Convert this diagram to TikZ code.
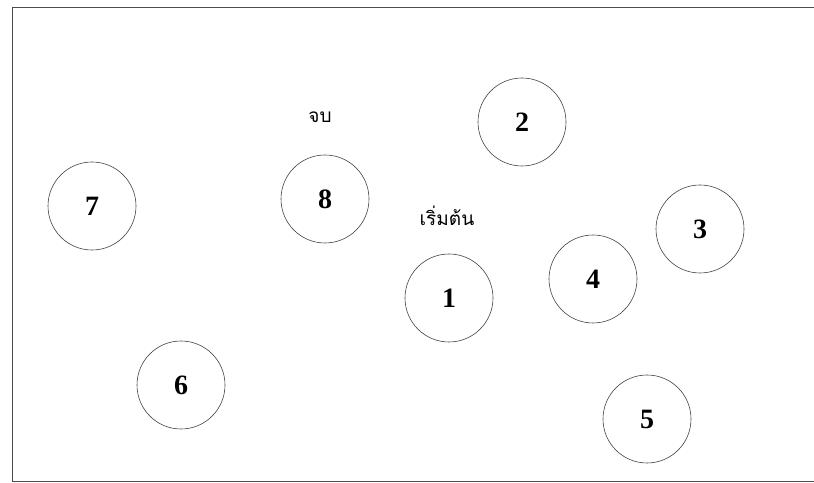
\documentclass[tikz,border=0pt]{standalone}
\usepackage{fontspec}
\setmainfont{Liberation Serif}
\newfontfamily\thaifont[Script=Thai]{Loma}
\begin{document}
\begin{tikzpicture}[x=1pt,y=1pt,
  stn/.style={circle,draw=black!75,line width=0.6pt,minimum size=88pt,inner sep=0pt,font=\fontsize{28}{28}\selectfont\bfseries},
  lbl/.style={font=\thaifont\fontsize{19}{19}\selectfont,inner sep=0pt}]
\useasboundingbox (0,0) rectangle (814,482);
\draw[black!70,line width=0.8pt] (830,475) -- (12,475) -- (12,1) -- (830,1);
\node[stn] (n2) at (522,360) {2};
\node[stn] (n8) at (325,283) {8};
\node[stn] (n7) at (92,276) {7};
\node[stn] (n3) at (700,253) {3};
\node[stn] (n4) at (593,203) {4};
\node[stn] (n1) at (449,184) {1};
\node[stn] (n6) at (181,97) {6};
\node[stn] (n5) at (647,63) {5};
\node[lbl] (end) at (320,365) {จบ};
\node[lbl] (start) at (447,266) {เริ่มต้น};
\end{tikzpicture}
\end{document}
